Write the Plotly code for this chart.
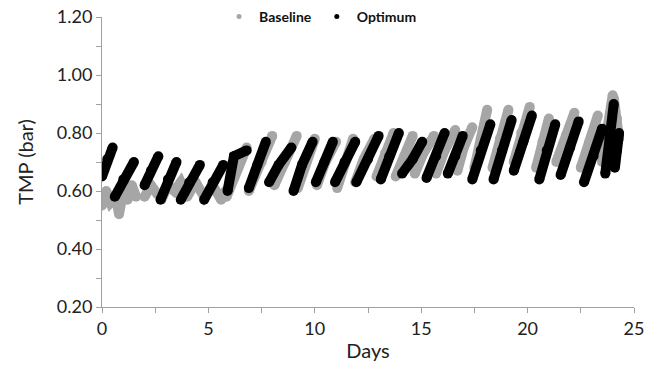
import plotly.graph_objects as go

# Baseline (grey) TMP readings; None separates filtration runs
base_days = [0.0, 0.2, 0.4, 0.65, 0.8, 1.0, 1.2, 1.4, 1.6, None,
             2.0, 2.3, 2.6, 2.85, 3.1, 3.4, 3.7, 4.0, 4.4, 4.8, 5.2, 5.6, 5.8, None,
             5.85, 6.3, 6.8, None,
             6.9, 7.5, 8.0, None,
             8.1, 8.6, 9.15, None,
             9.2, 9.6, 10.0, None,
             10.1, 10.5, 11.0, None,
             11.05, 11.4, 11.8, None,
             11.9, 12.3, 12.8, None,
             12.9, 13.3, 13.7, None,
             13.8, 14.2, 14.6, None,
             14.7, 15.1, 15.6, None,
             15.7, 16.1, 16.6, None,
             16.7, 17.0, 17.4, None,
             17.5, 17.8, 18.1, None,
             18.35, 18.7, 19.1, None,
             19.35, 19.7, 20.1, None,
             20.4, 20.7, 21.0, None,
             21.35, 21.8, 22.2, None,
             22.5, 22.9, 23.3, None,
             23.5, 23.75, 24.0, None,
             24.05, 24.2, 24.3]
base_tmp = [0.55, 0.60, 0.56, 0.58, 0.52, 0.60, 0.57, 0.62, 0.58, None,
            0.58, 0.62, 0.59, 0.58, 0.62, 0.60, 0.63, 0.58, 0.63, 0.58, 0.62, 0.57, 0.60, None,
            0.58, 0.67, 0.75, None,
            0.60, 0.70, 0.79, None,
            0.62, 0.70, 0.79, None,
            0.61, 0.70, 0.78, None,
            0.62, 0.70, 0.77, None,
            0.61, 0.70, 0.78, None,
            0.63, 0.71, 0.78, None,
            0.65, 0.73, 0.80, None,
            0.65, 0.72, 0.79, None,
            0.66, 0.73, 0.79, None,
            0.66, 0.74, 0.81, None,
            0.67, 0.75, 0.82, None,
            0.68, 0.78, 0.88, None,
            0.68, 0.78, 0.88, None,
            0.70, 0.80, 0.89, None,
            0.68, 0.77, 0.85, None,
            0.70, 0.79, 0.87, None,
            0.68, 0.77, 0.86, None,
            0.70, 0.82, 0.93, None,
            0.92, 0.85, 0.78]

# Optimum (black) TMP readings
opt_days = [0.0, 0.25, 0.5, None,
            0.6, 1.0, 1.5, None,
            2.0, 2.3, 2.65, None,
            2.75, 3.1, 3.5, None,
            3.7, 4.1, 4.6, None,
            4.8, 5.2, 5.7, None,
            5.9, 6.2, 6.8, None,
            6.9, 7.3, 7.7, None,
            7.85, 8.3, 8.9, None,
            9.0, 9.4, 9.9, None,
            10.05, 10.45, 10.85, None,
            10.95, 11.4, 11.9, None,
            11.95, 12.5, 13.0, None,
            13.1, 13.5, 13.95, None,
            14.1, 14.6, 15.05, None,
            15.25, 15.7, 16.1, None,
            16.25, 16.6, 16.95, None,
            17.4, 17.8, 18.25, None,
            18.4, 18.8, 19.25, None,
            19.35, 19.8, 20.2, None,
            20.55, 20.9, 21.3, None,
            21.55, 22.0, 22.4, None,
            22.65, 23.1, 23.5, None,
            23.65, 23.85, 24.05, None,
            24.1, 24.2, 24.3]
opt_tmp = [0.65, 0.71, 0.75, None,
           0.58, 0.64, 0.70, None,
           0.62, 0.67, 0.72, None,
           0.57, 0.64, 0.70, None,
           0.57, 0.63, 0.69, None,
           0.57, 0.63, 0.69, None,
           0.60, 0.72, 0.74, None,
           0.61, 0.69, 0.77, None,
           0.63, 0.69, 0.75, None,
           0.60, 0.69, 0.77, None,
           0.63, 0.70, 0.77, None,
           0.63, 0.70, 0.77, None,
           0.63, 0.71, 0.79, None,
           0.64, 0.72, 0.80, None,
           0.66, 0.71, 0.77, None,
           0.645, 0.72, 0.80, None,
           0.66, 0.72, 0.79, None,
           0.64, 0.74, 0.83, None,
           0.64, 0.74, 0.845, None,
           0.67, 0.77, 0.86, None,
           0.64, 0.74, 0.83, None,
           0.655, 0.75, 0.84, None,
           0.63, 0.72, 0.815, None,
           0.66, 0.78, 0.90, None,
           0.68, 0.74, 0.80]

series_names = ["Baseline", "Optimum"]
series_colors = ["#a6a6a6", "#000000"]

fig = go.Figure()
for xs, ys, col in [(base_days, base_tmp, series_colors[0]), (opt_days, opt_tmp, series_colors[1])]:
    fig.add_trace(go.Scatter(x=xs, y=ys, mode="lines+markers",
                             line=dict(color=col, width=10),
                             marker=dict(color=col, size=10),
                             connectgaps=False, showlegend=False, hoverinfo="skip"))
for name, col in zip(series_names, series_colors):
    fig.add_trace(go.Scatter(x=[None], y=[None], mode="markers", name=name,
                             marker=dict(color=col, size=5)))

axis_col = "#a0a0a0"
fig.update_layout(
    width=651, height=374,
    margin=dict(l=102, r=17, t=17, b=67, autoexpand=False),
    paper_bgcolor="white", plot_bgcolor="white",
    font=dict(family="Lato, Open Sans, sans-serif", color="#222"),
    legend=dict(orientation="h", x=0.22, xanchor="left", y=1.0, yanchor="middle",
                font=dict(size=14, color="#111", weight="bold"), bgcolor="rgba(0,0,0,0)",
                tracegroupgap=0),
    xaxis=dict(range=[0, 25], tick0=0, dtick=5, showgrid=False, zeroline=False,
               showline=True, linecolor=axis_col, linewidth=1,
               ticks="outside", ticklen=5, tickcolor=axis_col,
               minor=dict(dtick=2.5, ticks="outside", ticklen=5, tickcolor=axis_col),
               tickfont=dict(size=18), ticklabeloverflow="allow",
               title=dict(text="Days", font=dict(size=20), standoff=6)),
    yaxis=dict(range=[0.2, 1.2], tick0=0.2, dtick=0.2, tickformat=".2f",
               showgrid=False, zeroline=False,
               showline=True, linecolor=axis_col, linewidth=1,
               ticks="outside", ticklen=5, tickcolor=axis_col,
               minor=dict(dtick=0.1, ticks="outside", ticklen=5, tickcolor=axis_col),
               tickfont=dict(size=18), ticklabeloverflow="allow",
               title=dict(text="TMP (bar)", font=dict(size=20), standoff=17)),
)

# remove the browser's default 8px body margin so the figure fills the window exactly
fig.write_html("out.html", config={"displayModeBar": False},
               post_script="document.body.style.margin='0';document.body.style.overflow='hidden';")
